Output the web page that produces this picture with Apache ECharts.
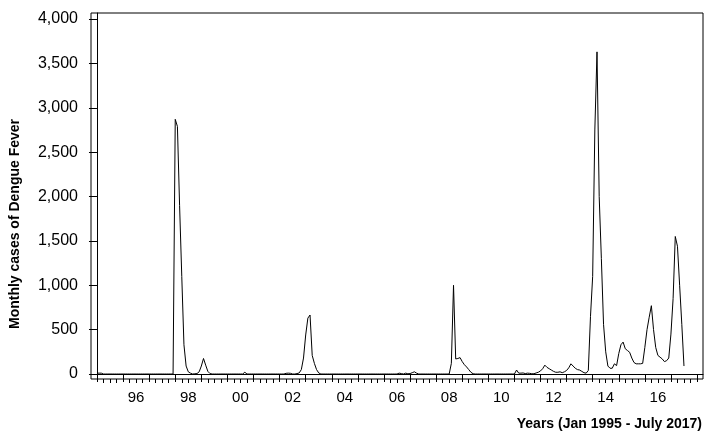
<!DOCTYPE html>
<html>
<head>
<meta charset="utf-8">
<script src="https://cdn.jsdelivr.net/npm/echarts@6/dist/echarts.min.js"></script>
<style>
  html, body { margin: 0; padding: 0; background: #fff; }
  #chart { width: 715px; height: 439px; }
</style>
</head>
<body>
<div id="chart"></div>
<script>
// monthly dengue cases, Jan 1995 .. Jul 2017 (one row per year)
var cases = [
  10, 10, 10, 0, 0, 0, 0, 0, 0, 0, 0, 0,             // 1995
  0, 0, 0, 0, 0, 0, 0, 0, 0, 0, 0, 0,                // 1996
  0, 0, 0, 0, 0, 0, 0, 0, 0, 0, 0, 0,                // 1997
  2870, 2790, 1900, 1100, 330, 90, 25, 10, 0, 3, 5, 25, // 1998
  90, 175, 100, 30, 5, 0, 0, 0, 0, 0, 0, 0,          // 1999
  0, 0, 0, 0, 0, 0, 0, 0, 20, 0, 0, 0,               // 2000
  0, 0, 0, 0, 0, 0, 0, 0, 0, 0, 0, 0,                // 2001
  0, 0, 0, 8, 10, 8, 0, 0, 5, 12, 50, 180,           // 2002
  440, 630, 665, 210, 120, 50, 12, 0, 0, 0, 0, 0,    // 2003
  0, 0, 0, 0, 0, 0, 0, 0, 0, 0, 0, 0,                // 2004
  0, 0, 0, 0, 0, 0, 0, 0, 0, 0, 0, 0,                // 2005
  0, 0, 0, 0, 0, 0, 0, 10, 5, 0, 10, 3,              // 2006
  5, 15, 25, 10, 0, 0, 0, 0, 0, 0, 0, 0,             // 2007
  0, 0, 0, 0, 0, 0, 0, 120, 1000, 170, 175, 185,     // 2008
  140, 105, 80, 50, 20, 3, 0, 0, 0, 0, 0, 0,         // 2009
  0, 0, 0, 0, 0, 0, 0, 0, 0, 0, 0, 0,                // 2010
  0, 45, 10, 10, 12, 5, 10, 8, 3, 3, 12, 20,         // 2011
  35, 60, 100, 75, 60, 45, 30, 20, 20, 25, 15, 25,   // 2012
  40, 70, 115, 90, 65, 50, 45, 30, 15, 10, 40, 650,  // 2013
  1100, 2750, 3630, 2000, 1300, 560, 250, 90, 65, 65, 115, 95, // 2014
  230, 330, 360, 285, 265, 245, 180, 130, 115, 115, 115, 120,  // 2015
  300, 500, 640, 770, 500, 300, 210, 190, 170, 140, 150, 180,  // 2016
  450, 850, 1550, 1440, 1000, 560, 90                // 2017 (to July)
]
var startYear = 1995
var labelYears = [1996, 1998, 2000, 2002, 2004, 2006, 2008, 2010, 2012, 2014, 2016]
var yTicks = [0, 500, 1000, 1500, 2000, 2500, 3000, 3500, 4000]

// x axis is in months since Jan 1995
var yearTicks = []
var quarterTicks = []
for (var m = 0; m <= 276; m += 3) {
  if (m % 12 === 0) yearTicks.push(m)
  else quarterTicks.push(m)
}
var labelPos = labelYears.map(function (y) { return (y - startYear) * 12 + 6 })

var font = 'Arial, "Liberation Sans", sans-serif'
var xMin = -2.75
var xMax = 278.75

var chart = echarts.init(document.getElementById('chart'), null, { renderer: 'canvas' })
chart.setOption({
  animation: false,
  backgroundColor: '#fff',
  grid: {
    left: 91, top: 13, right: 12, bottom: 60,
    show: true, borderColor: '#000', borderWidth: 1
  },
  xAxis: [{
    type: 'value', min: xMin, max: xMax, position: 'bottom',
    axisLine: { show: true, lineStyle: { color: '#000', width: 1 } },
    splitLine: { show: false },
    axisTick: { show: true, customValues: yearTicks, length: 8, lineStyle: { color: '#000' } },
    axisLabel: {
      show: true, customValues: labelPos, margin: 11,
      color: '#000', fontFamily: font, fontSize: 15,
      formatter: function (v) { return String(startYear + (v - 6) / 12).slice(2) }
    }
  }, {
    type: 'value', min: xMin, max: xMax, position: 'bottom',
    axisLine: { show: false },
    splitLine: { show: false },
    axisTick: { show: true, customValues: quarterTicks, length: 4, lineStyle: { color: '#000' } },
    axisLabel: { show: false }
  }],
  yAxis: {
    type: 'value', min: -56, max: 4068,
    axisLine: { show: true, lineStyle: { color: '#000', width: 1 } },
    splitLine: { show: false },
    axisTick: { show: true, customValues: yTicks, length: 8, lineStyle: { color: '#000' } },
    axisLabel: {
      show: true, customValues: yTicks, margin: 13,
      color: '#000', fontFamily: font, fontSize: 16,
      formatter: function (v) { return v.toLocaleString('en-US') }
    }
  },
  graphic: [{
    type: 'text', x: 15, y: 224, rotation: Math.PI / 2,
    style: {
      text: 'Monthly cases of Dengue Fever', fill: '#000',
      font: 'bold 14px ' + font, textAlign: 'center', textVerticalAlign: 'middle'
    }
  }, {
    type: 'text', x: 702, y: 424,
    style: {
      text: 'Years (Jan 1995 - July 2017)', fill: '#000',
      font: 'bold 14px ' + font, textAlign: 'right', textVerticalAlign: 'middle'
    }
  }],
  series: [{
    type: 'line',
    xAxisIndex: 0,
    data: cases.map(function (v, i) { return [i, v] }),
    showSymbol: false,
    lineStyle: { color: '#000', width: 1 }
  }]
})
</script>
</body>
</html>
